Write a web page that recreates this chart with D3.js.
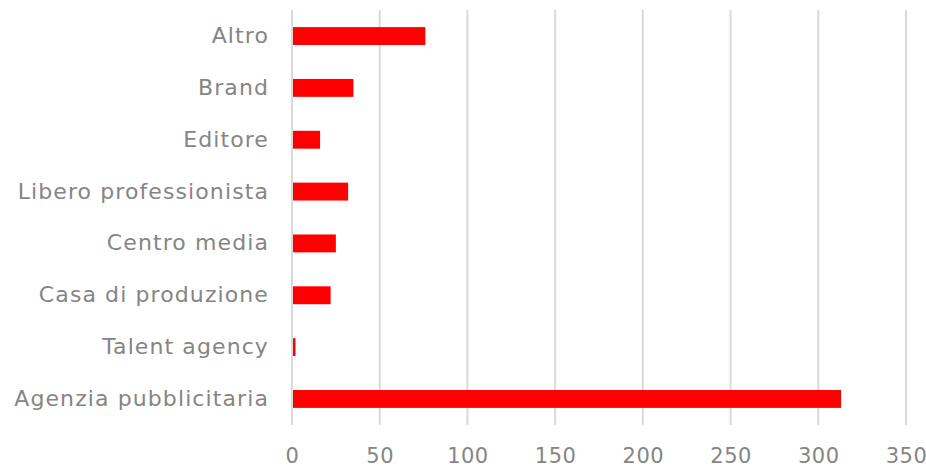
<!DOCTYPE html>
<html>
<head>
<meta charset="utf-8">
<script src="https://cdn.jsdelivr.net/npm/d3@7"></script>
<style>
  html, body { margin: 0; padding: 0; background: #ffffff; }
  svg text { font-family: "DejaVu Sans", "Open Sans", sans-serif; fill: #858585; }
</style>
</head>
<body>
<svg id="chart" width="926" height="468"></svg>
<script>
// Respondents by type of organisation
const categories = [
  "Altro",
  "Brand",
  "Editore",
  "Libero professionista",
  "Centro media",
  "Casa di produzione",
  "Talent agency",
  "Agenzia pubblicitaria"
];
const values = [76, 35, 16, 32, 25, 22, 2, 313];
const tickValues = [0, 50, 100, 150, 200, 250, 300, 350];

const svg = d3.select("#chart");
const margin = { top: 10, right: 20, bottom: 43, left: 292 };
const width = 926;
const height = 468;

const x = d3.scaleLinear()
  .domain([0, 350])
  .range([margin.left, 906]);

const y = d3.scaleBand()
  .domain(categories)
  .range([margin.top, height - margin.bottom])
  .paddingInner(0.655)
  .paddingOuter(0.33);

// vertical gridlines
svg.append("g")
  .selectAll("line")
  .data(tickValues)
  .join("line")
  .attr("x1", d => x(d))
  .attr("x2", d => x(d))
  .attr("y1", margin.top)
  .attr("y2", height - margin.bottom)
  .attr("stroke", "#d9d9d9")
  .attr("stroke-width", 2);

// bars
svg.append("g")
  .selectAll("rect")
  .data(categories.map((c, i) => ({ c, v: values[i] })))
  .join("rect")
  .attr("x", x(0) + 1)
  .attr("y", d => y(d.c))
  .attr("width", d => Math.max(0, x(d.v) - x(0) - 1))
  .attr("height", y.bandwidth())
  .attr("fill", "#ff0000");

// category labels
const yAxis = d3.axisLeft(y).tickSize(0).tickPadding(23);
const gy = svg.append("g")
  .attr("transform", `translate(${margin.left},0)`)
  .call(yAxis);
gy.select(".domain").remove();
gy.selectAll("text")
  .style("font-size", "22px")
  .style("letter-spacing", "1.1px")
  .attr("fill", "#858585");

// value axis labels
const xAxis = d3.axisBottom(x).tickValues(tickValues).tickSize(0).tickPadding(23);
const gx = svg.append("g")
  .attr("transform", `translate(0,${height - margin.bottom})`)
  .call(xAxis);
gx.select(".domain").remove();
gx.selectAll("text")
  .style("font-size", "21px")
  .style("letter-spacing", "0.5px")
  .attr("fill", "#858585");
</script>
</body>
</html>
